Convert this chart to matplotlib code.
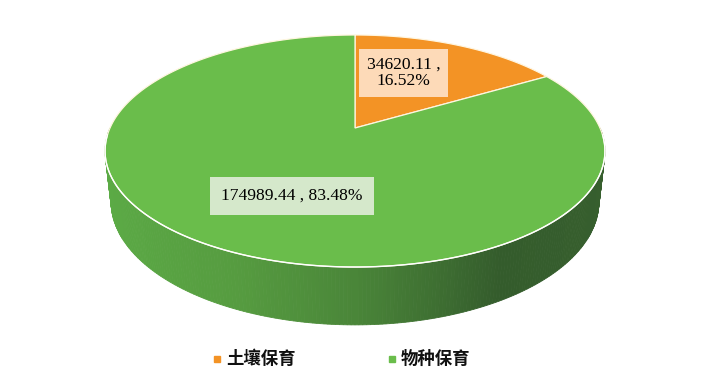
import numpy as np
import matplotlib
matplotlib.use('Agg')
import matplotlib.pyplot as plt
from matplotlib.colors import LinearSegmentedColormap
from matplotlib.patches import Polygon

categories = ['土壤保育', '物种保育']
values = [34620.11, 174989.44]
colors = ['#F39325', '#6ABD4B']
label_colors = ['#FDDAB8', '#D5E8CB']

total = sum(values)
percents = [v / total * 100 for v in values]

# perspective view of the pie (screen pixels)
elev = np.radians(27.06)
s, c = np.sin(elev), np.cos(elev)
dist = 4.49
focal = 1100.0
height = 0.234
cx, cy = 355.0, 128.0


def project(X, Y, Z):
    depth = Y * c - Z * s + dist
    up = Y * s + Z * c
    return cx + focal * X / depth, cy - focal * up / depth


fig = plt.figure(figsize=(7.06, 3.85), dpi=100)
ax = fig.add_axes([0, 0, 1, 1])
ax.set_xlim(0, 706)
ax.set_ylim(385, 0)
ax.axis('off')

# side wall, shaded from light (left) to dark (right)
side_cmap = LinearSegmentedColormap.from_list('side', [
    (0.0, (92 / 255, 172 / 255, 70 / 255)),
    (0.3, (86 / 255, 156 / 255, 64 / 255)),
    (0.5, (74 / 255, 134 / 255, 57 / 255)),
    (0.75, (52 / 255, 92 / 255, 44 / 255)),
    (1.0, (55 / 255, 95 / 255, 46 / 255)),
])
ts = np.linspace(np.pi, 2 * np.pi, 241)
quads = []
for t0, t1 in zip(ts[:-1], ts[1:]):
    tm = (t0 + t1) / 2
    facing = -1 - dist * c * np.sin(tm)
    pts = [project(np.cos(t0), np.sin(t0), 0), project(np.cos(t1), np.sin(t1), 0),
           project(np.cos(t1), np.sin(t1), -height), project(np.cos(t0), np.sin(t0), -height)]
    quads.append((facing, pts, side_cmap((np.cos(tm) + 1) / 2)))
quads.sort(key=lambda q: q[0] > 0)
for facing, pts, col in quads:
    ax.add_patch(Polygon(pts, closed=True, facecolor=col, edgecolor=col, lw=0.6))

# top face slices, clockwise from 12 o'clock
start = 90.0
for val, col in zip(values, colors):
    sweep = val / total * 360
    angs = np.radians(np.linspace(start, start - sweep, 300))
    pts = [project(0, 0, 0)] + [project(np.cos(a), np.sin(a), 0) for a in angs]
    ax.add_patch(Polygon(pts, closed=True, facecolor=col, edgecolor='#FFF6E0', lw=0.9))
    start -= sweep

# white rim along front top edge
rim = [project(np.cos(t), np.sin(t), 0) for t in np.linspace(np.pi * 1.02, 2 * np.pi * 0.99, 200)]
ax.plot([p[0] for p in rim], [p[1] for p in rim], color='white', lw=1.0)

# data labels
serif = ['Liberation Serif', 'DejaVu Serif']
ax.text(403.5, 73, f'{values[0]:.2f} ,\n{percents[0]:.2f}%', ha='center', va='center',
        fontsize=12.6, family=serif, linespacing=1.0,
        bbox=dict(boxstyle='square,pad=0.45', facecolor=label_colors[0], edgecolor='none'))
ax.text(292, 196, f'{values[1]:.2f} , {percents[1]:.2f}%', ha='center', va='center',
        fontsize=12.6, family=serif,
        bbox=dict(boxstyle='square,pad=0.62', facecolor=label_colors[1], edgecolor='none'))

# legend
cjk = ['Noto Sans CJK SC', 'DejaVu Sans']
for i, (name, col) in enumerate(zip(categories, colors)):
    x0 = 217 + i * 175
    ax.plot(x0, 359, marker='s', ms=4.5, color=col, ls='none')
    ax.text(x0 + 9, 359, name, ha='left', va='center', fontsize=12.5,
            fontweight='bold', family=cjk, color='#111111')

fig.savefig('out.png', dpi=100)
